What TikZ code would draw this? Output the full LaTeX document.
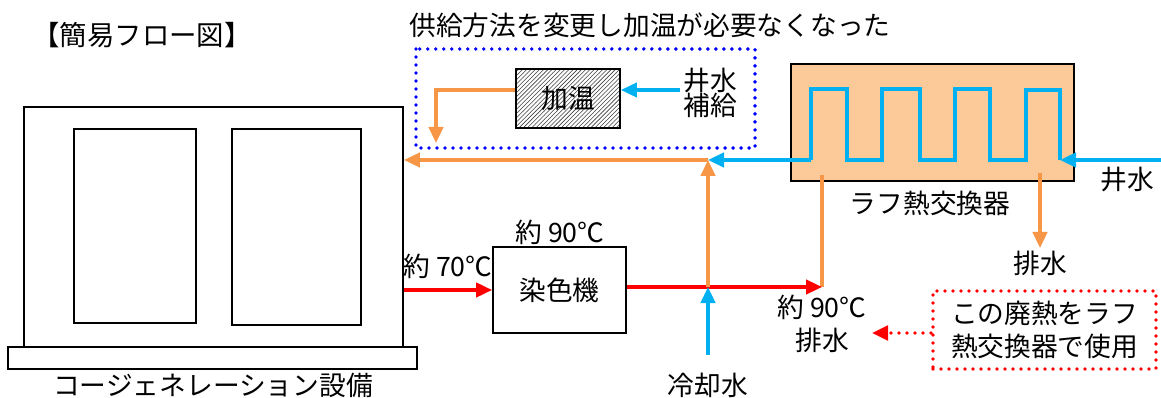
\documentclass[tikz,border=0pt]{standalone}
\usepackage{fontspec}
\setmainfont{Noto Sans CJK JP}
\usetikzlibrary{arrows.meta,patterns,positioning}

\definecolor{hotred}{RGB}{255,0,0}
\definecolor{warmorange}{RGB}{247,150,70}
\definecolor{wellblue}{RGB}{0,176,240}
\definecolor{hxpeach}{RGB}{251,202,152}
\definecolor{dotblue}{RGB}{0,0,255}

\tikzset{
  every node/.style={font=\fontsize{19}{24}\selectfont, inner sep=0pt},
  unit/.style={draw, line width=1.3pt, fill=white},
  redpipe/.style={draw=hotred, line width=2.2pt},
  orangepipe/.style={draw=warmorange, line width=2.2pt},
  bluepipe/.style={draw=wellblue, line width=2.2pt},
  dotbox/.style={line width=2.7pt, line cap=round, dash pattern=on 0pt off 0.2cm},
}

\begin{document}
\begin{tikzpicture}[x=0.025cm, y=-0.025cm, >={Triangle[length=0.4cm,width=0.36cm]}]
    \useasboundingbox (0,0) rectangle (1161,398);

    % Cogeneration unit
    \node[unit, minimum width=9.475cm, minimum height=6cm] (cogen) at (213.5,227) {};
    \node[unit, minimum width=3.05cm, minimum height=4.85cm] (panelA) at (135,226) {};
    \node[unit, minimum width=3.225cm, minimum height=4.9cm] (panelB) at (296.5,227) {};
    \node[unit, minimum width=10.225cm, minimum height=0.55cm] (base) at (212.5,358) {};
    \node (cogenlabel) at (213,385) {コージェネレーション設備};

    % Titles
    \node[font=\fontsize{19.5}{24}\selectfont] (title) at (142,35) {【簡易フロー図】};
    \node (note) at (650,25) {供給方法を変更し加温が必要なくなった};

    % Former heating stage (blue dotted box)
    \draw[dotbox, dotblue] (416,49) rectangle (755,148);
    \node[draw, line width=1.3pt, pattern=north east lines, pattern color=black!75,
          minimum width=2.6cm, minimum height=1.475cm] (heater) at (568,98.5) {};
    \node (heatertext) at (heater) {加温};
    \node[align=center, font=\fontsize{19}{18}\selectfont] (supply) at (710,93) {井水\\補給};
    \coordinate (supplyin) at (680,90);
    \coordinate (heatdrop) at (436,143);
    \draw[bluepipe, ->] (supplyin) -- (heater.east |- supplyin);
    \draw[orangepipe, ->] (heater.west |- supplyin) -| (heatdrop);

    % Rough heat exchanger
    \node[draw, line width=1.3pt, fill=hxpeach, minimum width=7.075cm, minimum height=2.925cm] (hx) at (932.5,122.5) {};
    \node (hxlabel) at (930,203) {ラフ熱交換器};
    \draw[bluepipe] (811,160) -- (811,89) -- (847,89) -- (847,160) -- (882,160) -- (882,89)
        -- (920,89) -- (920,160) -- (955,160) -- (955,89) -- (990,89) -- (990,160)
        -- (1026,160) -- (1026,90) -- (1060,90) -- (1060,160);
    \coordinate (coilout) at (811,160);
    \coordinate (coilin) at (1060,160);
    \coordinate (wellsrc) at (1161,160);
    \draw[bluepipe, ->] (wellsrc) -- (coilin);
    \node (welllabel) at (1127,180) {井水};
    \coordinate (hxdrainA) at (1040,173);
    \coordinate (hxdrainB) at (1040,248);
    \draw[orangepipe, ->] (hxdrainA) -- (hxdrainB);
    \node (drainlabel) at (1040,263) {排水};

    % Dyeing machine
    \node[unit, minimum width=3.325cm, minimum height=2.15cm] (dyer) at (559.5,290) {};
    \node (dyertext) at (dyer) {染色機};
    \node (dyertemp) at (560,232) {約 90℃};

    % Hot water loop
    \coordinate (mix) at (708,287);
    \coordinate (join) at (708,160);
    \coordinate (hotdrain) at (822,287);
    \coordinate (hxtap) at (822,175);
    \coordinate (coolsrc) at (708,355);
    \draw[orangepipe] (hxtap) -- (hotdrain);
    \draw[redpipe, ->] (cogen.east |- dyer) -- node[above=7pt] (outtemp) {約 70℃} (dyer.west);
    \draw[redpipe] (dyer.east |- mix) -- (mix);
    \draw[redpipe, ->] (mix) -- (hotdrain);
    \draw[bluepipe, ->] (coolsrc) -- (mix);
    \draw[orangepipe, ->] (mix) -- (join);
    \draw[orangepipe, ->] (join) -- (cogen.east |- join);
    \draw[bluepipe, ->] (coilout) -- (join);
    \node (coollabel) at (708,385) {冷却水};
    \node[align=center, font=\fontsize{19}{23}\selectfont] (draintemp) at (822,324) {約 90℃\\排水};

    % Waste heat note
    \node[draw=hotred, dotbox, align=center, minimum width=5.575cm, minimum height=1.95cm] (wastenote) at (1044.5,330)
        {この廃熱をラフ\\熱交換器で使用};
    \coordinate (wastetip) at (872,333);
    \draw[dotbox, draw=hotred, -{Triangle[length=0.4cm,width=0.36cm,fill=hotred]}] (wastenote.west |- wastetip) -- (wastetip);
\end{tikzpicture}
\end{document}
